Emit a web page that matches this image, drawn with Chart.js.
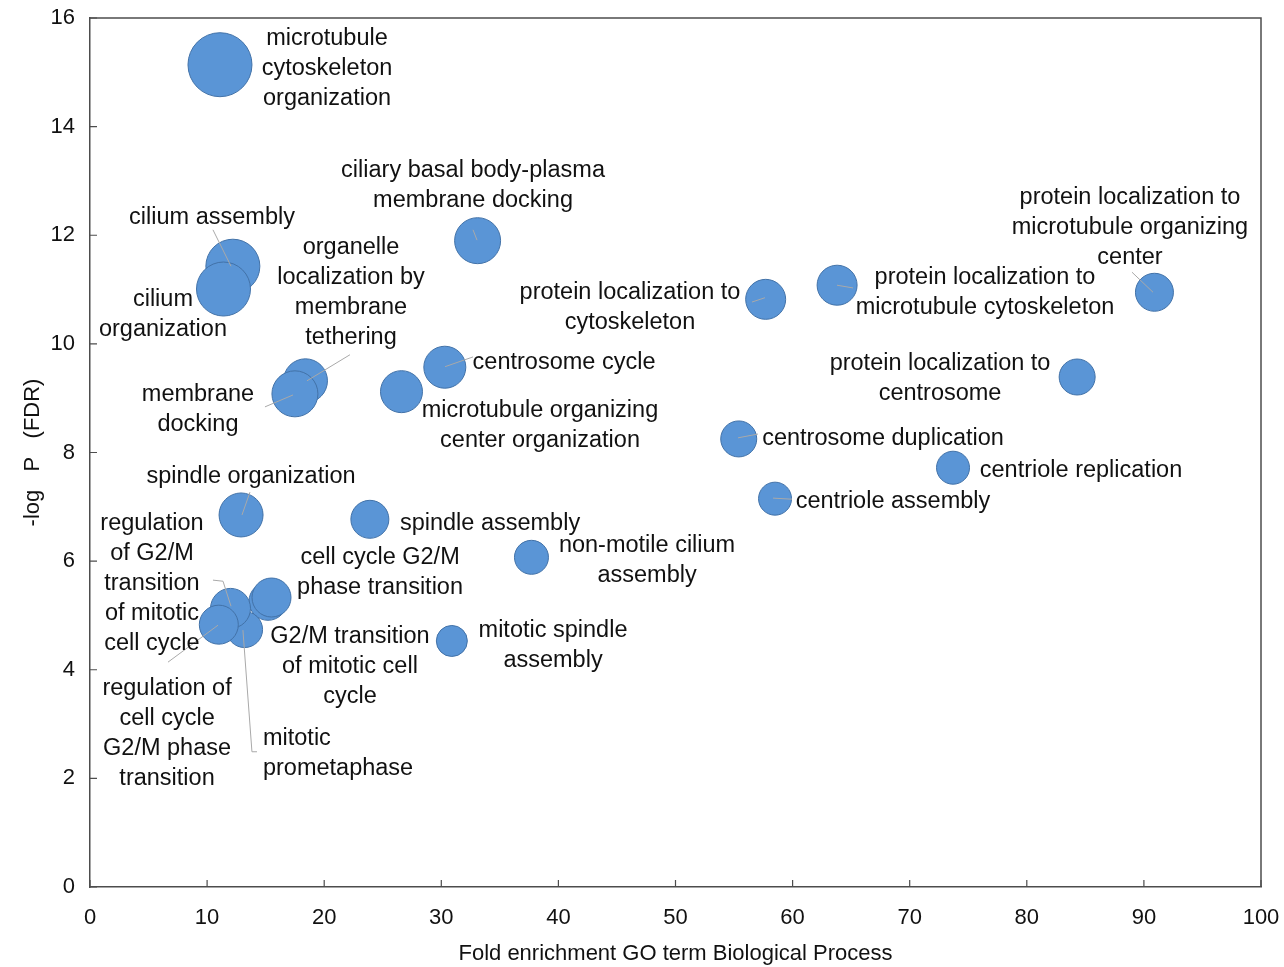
<!DOCTYPE html>
<html>
<head>
<meta charset="utf-8">
<script src="https://cdn.jsdelivr.net/npm/chart.js@4/dist/chart.umd.min.js"></script>
<style>
  html, body { margin: 0; padding: 0; background: #ffffff; }
  #wrap { width: 1284px; height: 967px; }
</style>
</head>
<body>
<div id="wrap"><canvas id="c" width="1284" height="967"></canvas></div>
<script>
// ---------------- DATA ----------------
const terms = [
  "microtubule cytoskeleton organization",
  "cilium assembly",
  "cilium organization",
  "ciliary basal body-plasma membrane docking",
  "organelle localization by membrane tethering",
  "membrane docking",
  "microtubule organizing center organization",
  "centrosome cycle",
  "protein localization to cytoskeleton",
  "protein localization to microtubule cytoskeleton",
  "protein localization to microtubule organizing center",
  "protein localization to centrosome",
  "centrosome duplication",
  "centriole replication",
  "centriole assembly",
  "spindle organization",
  "spindle assembly",
  "non-motile cilium assembly",
  "G2/M transition of mitotic cell cycle",
  "cell cycle G2/M phase transition",
  "mitotic prometaphase",
  "regulation of G2/M transition of mitotic cell cycle",
  "regulation of cell cycle G2/M phase transition",
  "mitotic spindle assembly"
];
const foldEnrichment = [11.1, 12.2, 11.4, 33.1, 18.4, 17.5, 26.6, 30.3, 57.7, 63.8, 90.9, 84.3, 55.4, 73.7, 58.5, 12.9, 23.9, 37.7, 15.2, 15.5, 13.2, 12.0, 11.0, 30.9];
const negLogFDR     = [15.14, 11.43, 11.01, 11.90, 9.32, 9.08, 9.12, 9.57, 10.82, 11.08, 10.95, 9.39, 8.25, 7.72, 7.15, 6.85, 6.77, 6.07, 5.26, 5.33, 4.74, 5.13, 4.83, 4.53];
const bubbleSize    = [32, 27, 27, 23, 22, 23, 21, 21, 20, 20, 19, 18, 18, 16.5, 16.5, 22, 19, 17, 19, 19.5, 18, 20, 19.5, 15.5];

const xTicks = [0, 10, 20, 30, 40, 50, 60, 70, 80, 90, 100];
const yTicks = [0, 2, 4, 6, 8, 10, 12, 14, 16];

// label text (as wrapped in the figure) and where each label sits (data units)
const labelLines = [
  ["microtubule", "cytoskeleton", "organization"],
  ["cilium assembly"],
  ["cilium", "organization"],
  ["ciliary basal body-plasma", "membrane docking"],
  ["organelle", "localization by", "membrane", "tethering"],
  ["membrane", "docking"],
  ["microtubule organizing", "center organization"],
  ["centrosome cycle"],
  ["protein localization to", "cytoskeleton"],
  ["protein localization to", "microtubule cytoskeleton"],
  ["protein localization to", "microtubule organizing", "center"],
  ["protein localization to", "centrosome"],
  ["centrosome duplication"],
  ["centriole replication"],
  ["centriole assembly"],
  ["spindle organization"],
  ["spindle assembly"],
  ["non-motile cilium", "assembly"],
  ["G2/M transition", "of mitotic cell", "cycle"],
  ["cell cycle G2/M", "phase transition"],
  ["mitotic", "prometaphase"],
  ["regulation", "of G2/M", "transition", "of mitotic", "cell cycle"],
  ["regulation of", "cell cycle", "G2/M phase", "transition"],
  ["mitotic spindle", "assembly"]
];
const labelX = [20.24, 10.42, 6.23, 32.71, 22.29, 9.22, 38.43, 40.48, 46.11, 76.43, 88.81, 72.59, 67.72, 84.63, 68.57, 13.75, 34.16, 47.57, 22.20, 24.77, 14.77, 5.29, 6.58, 39.54];
const labelY = [15.63, 12.32, 10.81, 13.20, 11.78, 9.06, 8.78, 9.65, 10.95, 11.23, 12.70, 9.63, 8.26, 7.66, 7.09, 7.55, 6.70, 6.28, 4.62, 6.07, 2.74, 6.70, 3.66, 4.73];
const labelAlign = ["center","center","center","center","center","center","center","center","center","center","center","center","center","center","center","center","center","center","center","center","left","center","center","center"];

// leader lines (data units)
const leaders = [
  [[10.50, 12.10], [12.04, 11.43]],
  [[32.71, 12.10], [33.05, 11.91]],
  [[22.20, 9.80], [18.53, 9.32]],
  [[14.94, 8.84], [17.34, 9.06]],
  [[30.32, 9.58], [32.71, 9.76]],
  [[56.53, 10.77], [57.64, 10.85]],
  [[63.79, 11.08], [65.16, 11.03]],
  [[88.98, 11.32], [90.78, 10.95]],
  [[55.34, 8.27], [57.04, 8.34]],
  [[58.33, 7.16], [59.95, 7.14]],
  [[13.66, 7.27], [12.98, 6.85]],
  [[10.50, 5.65], [11.36, 5.63], [12.04, 5.17]],
  [[6.66, 4.14], [10.93, 4.82]],
  [[13.06, 4.73], [13.83, 2.49], [14.26, 2.49]]
];

// ---------------- CHART ----------------
const FONT = '"Liberation Sans", Arial, sans-serif';
const bubbles = terms.map((t, i) => ({ x: foldEnrichment[i], y: negLogFDR[i], r: bubbleSize[i] }));

const decorPlugin = {
  id: 'decor',
  afterDatasetsDraw(chart) {
    const ctx = chart.ctx;
    const xs = chart.scales.x, ys = chart.scales.y;
    const a = chart.chartArea;
    ctx.save();
    // box top/right
    ctx.strokeStyle = '#4d4d4d';
    ctx.lineWidth = 1.5;
    ctx.beginPath();
    ctx.moveTo(a.left, a.top); ctx.lineTo(a.right, a.top); ctx.lineTo(a.right, a.bottom);
    ctx.stroke();
    // inward ticks
    ctx.lineWidth = 1.2;
    ctx.beginPath();
    xTicks.forEach(v => { const p = xs.getPixelForValue(v); ctx.moveTo(p, a.bottom); ctx.lineTo(p, a.bottom - 7); });
    yTicks.forEach(v => { const p = ys.getPixelForValue(v); ctx.moveTo(a.left, p); ctx.lineTo(a.left + 7, p); });
    ctx.stroke();
    // leader lines
    ctx.strokeStyle = '#a9a9a9';
    ctx.lineWidth = 1;
    leaders.forEach(pts => {
      ctx.beginPath();
      pts.forEach((pt, k) => {
        const px = xs.getPixelForValue(pt[0]), py = ys.getPixelForValue(pt[1]);
        if (k === 0) ctx.moveTo(px, py); else ctx.lineTo(px, py);
      });
      ctx.stroke();
    });
    // labels
    ctx.fillStyle = '#111111';
    ctx.font = '23.5px ' + FONT;
    ctx.textBaseline = 'middle';
    labelLines.forEach((lines, i) => {
      const px = xs.getPixelForValue(labelX[i]);
      const py = ys.getPixelForValue(labelY[i]);
      ctx.textAlign = labelAlign[i];
      lines.forEach((ln, k) => ctx.fillText(ln, px, py + k * 30));
    });
    ctx.restore();
  }
};

new Chart(document.getElementById('c'), {
  type: 'bubble',
  data: {
    datasets: [{
      label: 'GO terms',
      data: bubbles,
      backgroundColor: '#5a95d6',
      borderColor: '#4272a8',
      borderWidth: 1,
      clip: false
    }]
  },
  options: {
    responsive: false,
    animation: false,
    devicePixelRatio: 1,
    layout: { autoPadding: false, padding: { left: 0, top: 18, right: 23, bottom: 0 } },
    plugins: { legend: { display: false }, tooltip: { enabled: false } },
    scales: {
      x: {
        type: 'linear', min: 0, max: 100,
        afterBuildTicks: s => { s.ticks = xTicks.map(v => ({ value: v })); },
        afterFit: s => { s.height = 80; s.paddingLeft = 0; s.paddingRight = 0; },
        ticks: { font: { size: 22, family: FONT }, color: '#111', padding: 18, maxRotation: 0 },
        grid: { display: true, drawOnChartArea: false, drawTicks: false },
        border: { display: true, color: '#4d4d4d', width: 1.5 },
        title: { display: true, text: 'Fold enrichment GO term Biological Process', font: { size: 22, family: FONT }, color: '#111', padding: { top: 2, bottom: 0 } }
      },
      y: {
        type: 'linear', min: 0, max: 16,
        afterBuildTicks: s => { s.ticks = yTicks.map(v => ({ value: v })); },
        afterFit: s => { s.width = 90; s.paddingTop = 0; s.paddingBottom = 0; },
        ticks: { font: { size: 22, family: FONT }, color: '#111', padding: 15 },
        grid: { display: true, drawOnChartArea: false, drawTicks: false },
        border: { display: true, color: '#4d4d4d', width: 1.5 },
        title: { display: true, text: '-log   P   (FDR)', font: { size: 22, family: FONT }, color: '#111', padding: { top: 20, bottom: 0 } }
      }
    }
  },
  plugins: [decorPlugin]
});
</script>
</body>
</html>
